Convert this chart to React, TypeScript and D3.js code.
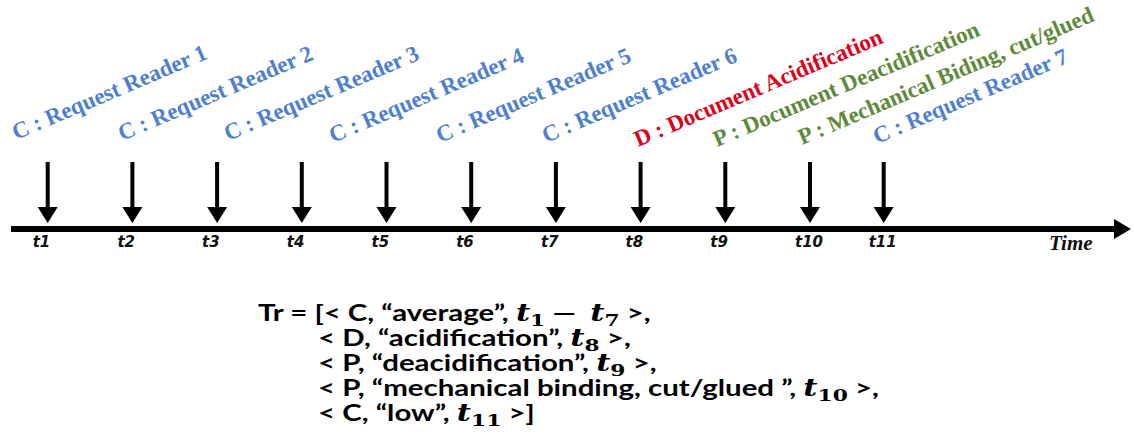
import React from "react";
import * as d3 from "d3";

// ---------- data ----------
const tickLabels = ["t1", "t2", "t3", "t4", "t5", "t6", "t7", "t8", "t9", "t10", "t11"];
const eventTimes = [1, 2, 3, 4, 5, 6, 7, 8, 9, 10, 10.87];

const labelCodes = ["C", "C", "C", "C", "C", "C", "D", "P", "P", "C"];
const labelTexts = [
  "Request Reader 1",
  "Request Reader 2",
  "Request Reader 3",
  "Request Reader 4",
  "Request Reader 5",
  "Request Reader 6",
  "Document Acidification",
  "Document Deacidification",
  "Mechanical Biding, cut/glued",
  "Request Reader 7",
];

const codeColors: Record<string, string> = { C: "#4f7fcf", D: "#e0001a", P: "#5e8a3c" };

// formula rows: [kind, text] ; kind n = normal, t = math t, s = subscript
const formulaRows: [string, string][][] = [
  [["n", "Tr = [< C, “average”, "], ["t", "t"], ["s", "1"], ["n", " —  "], ["t", "t"], ["s", "7"], ["n", " >,"]],
  [["n", "< D, “acidification”, "], ["t", "t"], ["s", "8"], ["n", " >,"]],
  [["n", "< P, “deacidification”, "], ["t", "t"], ["s", "9"], ["n", " >,"]],
  [["n", "< P, “mechanical binding, cut/glued ”, "], ["t", "t"], ["s", "10"], ["n", " >,"]],
  [["n", "< C, “low”, "], ["t", "t"], ["s", "11"], ["n", " >]"]],
];

// ---------- layout ----------
const W = 1134;
const H = 442;
const axisY = 229;
const axisX0 = 11;
const axisX1 = 1131;
const arrowTop = 162;
const arrowTip = 223;
const labelAngle = -23;
const labelAnchors: [number, number][] = [
  [16, 140], [122, 141], [228, 141], [333, 143], [440, 143], [546, 143],
  [638, 147], [717, 147], [802, 145], [877, 144],
];
const formulaX0 = 258;
const formulaX = 318;
const formulaBase0 = 321;
const formulaStep = 25;
const formulaSX = 1.28;

export default function App() {
  const x = d3.scaleLinear().domain([1, 10]).range([47.7, 810]);

  const headPath = (cx: number) => {
    const p = d3.path();
    p.moveTo(cx - 10, arrowTip - 16);
    p.lineTo(cx + 10, arrowTip - 16);
    p.lineTo(cx, arrowTip);
    p.closePath();
    return p.toString();
  };

  const mainHead = (() => {
    const p = d3.path();
    p.moveTo(axisX1 - 17, axisY - 10);
    p.lineTo(axisX1, axisY);
    p.lineTo(axisX1 - 17, axisY + 10);
    p.closePath();
    return p.toString();
  })();

  return (
    <svg
      width={W}
      height={H}
      viewBox={`0 0 ${W} ${H}`}
      style={{ position: "absolute", left: 0, top: 0, background: "#fff" }}
    >
      <rect width={W} height={H} fill="#fff" />
      {/* main axis */}
      <line x1={axisX0} x2={axisX1 - 14} y1={axisY} y2={axisY} stroke="#000" strokeWidth={6} />
      <path d={mainHead} fill="#000" />

      {/* event arrows */}
      {eventTimes.map((t, i) => (
        <g key={i}>
          <line x1={x(t)} x2={x(t)} y1={arrowTop} y2={arrowTip - 15} stroke="#000" strokeWidth={4} />
          <path d={headPath(x(t))} fill="#000" />
          <text
            x={x(t) - 15}
            y={247}
            fontFamily="DejaVu Sans"
            fontWeight="bold"
            fontStyle="italic"
            fontSize={15}
            fill="#111"
          >
            {tickLabels[i]}
          </text>
        </g>
      ))}

      <text
        x={1049}
        y={250}
        fontFamily="Liberation Serif"
        fontWeight="bold"
        fontStyle="italic"
        fontSize={21}
        fill="#111"
      >
        Time
      </text>

      {/* rotated labels */}
      {labelTexts.map((s, i) => {
        const [lx, ly] = labelAnchors[i];
        return (
          <text
            key={i}
            transform={`translate(${lx},${ly}) rotate(${labelAngle})`}
            fontFamily="Liberation Serif"
            fontWeight="bold"
            fontSize={23}
            fill={codeColors[labelCodes[i]]}
          >
            {`${labelCodes[i]} : ${s}`}
          </text>
        );
      })}

      {/* formula */}
      {formulaRows.map((row, r) => (
        <g key={r} transform={`translate(${r === 0 ? formulaX0 : formulaX},${formulaBase0 + r * formulaStep}) scale(${formulaSX},1)`}>
          <text
            x={0}
            y={0}
            fontFamily="Lato"
            fontWeight="bold"
            fontSize={23}
            fill="#000"
            style={{ whiteSpace: "pre" }}
          >
            {row.map(([k, s], j) => {
              const prev = j > 0 ? row[j - 1][0] : "n";
              const dy = k === "s" ? 5 : prev === "s" ? -5 : 0;
              if (k === "t")
                return (
                  <tspan key={j} dy={dy} fontFamily="DejaVu Serif" fontStyle="italic" fontWeight="bold" fontSize={24}>
                    {s}
                  </tspan>
                );
              if (k === "s")
                return (
                  <tspan key={j} dy={dy} fontFamily="DejaVu Serif" fontWeight="bold" fontSize={17}>
                    {s}
                  </tspan>
                );
              return (
                <tspan key={j} dy={dy}>
                  {s}
                </tspan>
              );
            })}
          </text>
        </g>
      ))}
    </svg>
  );
}
